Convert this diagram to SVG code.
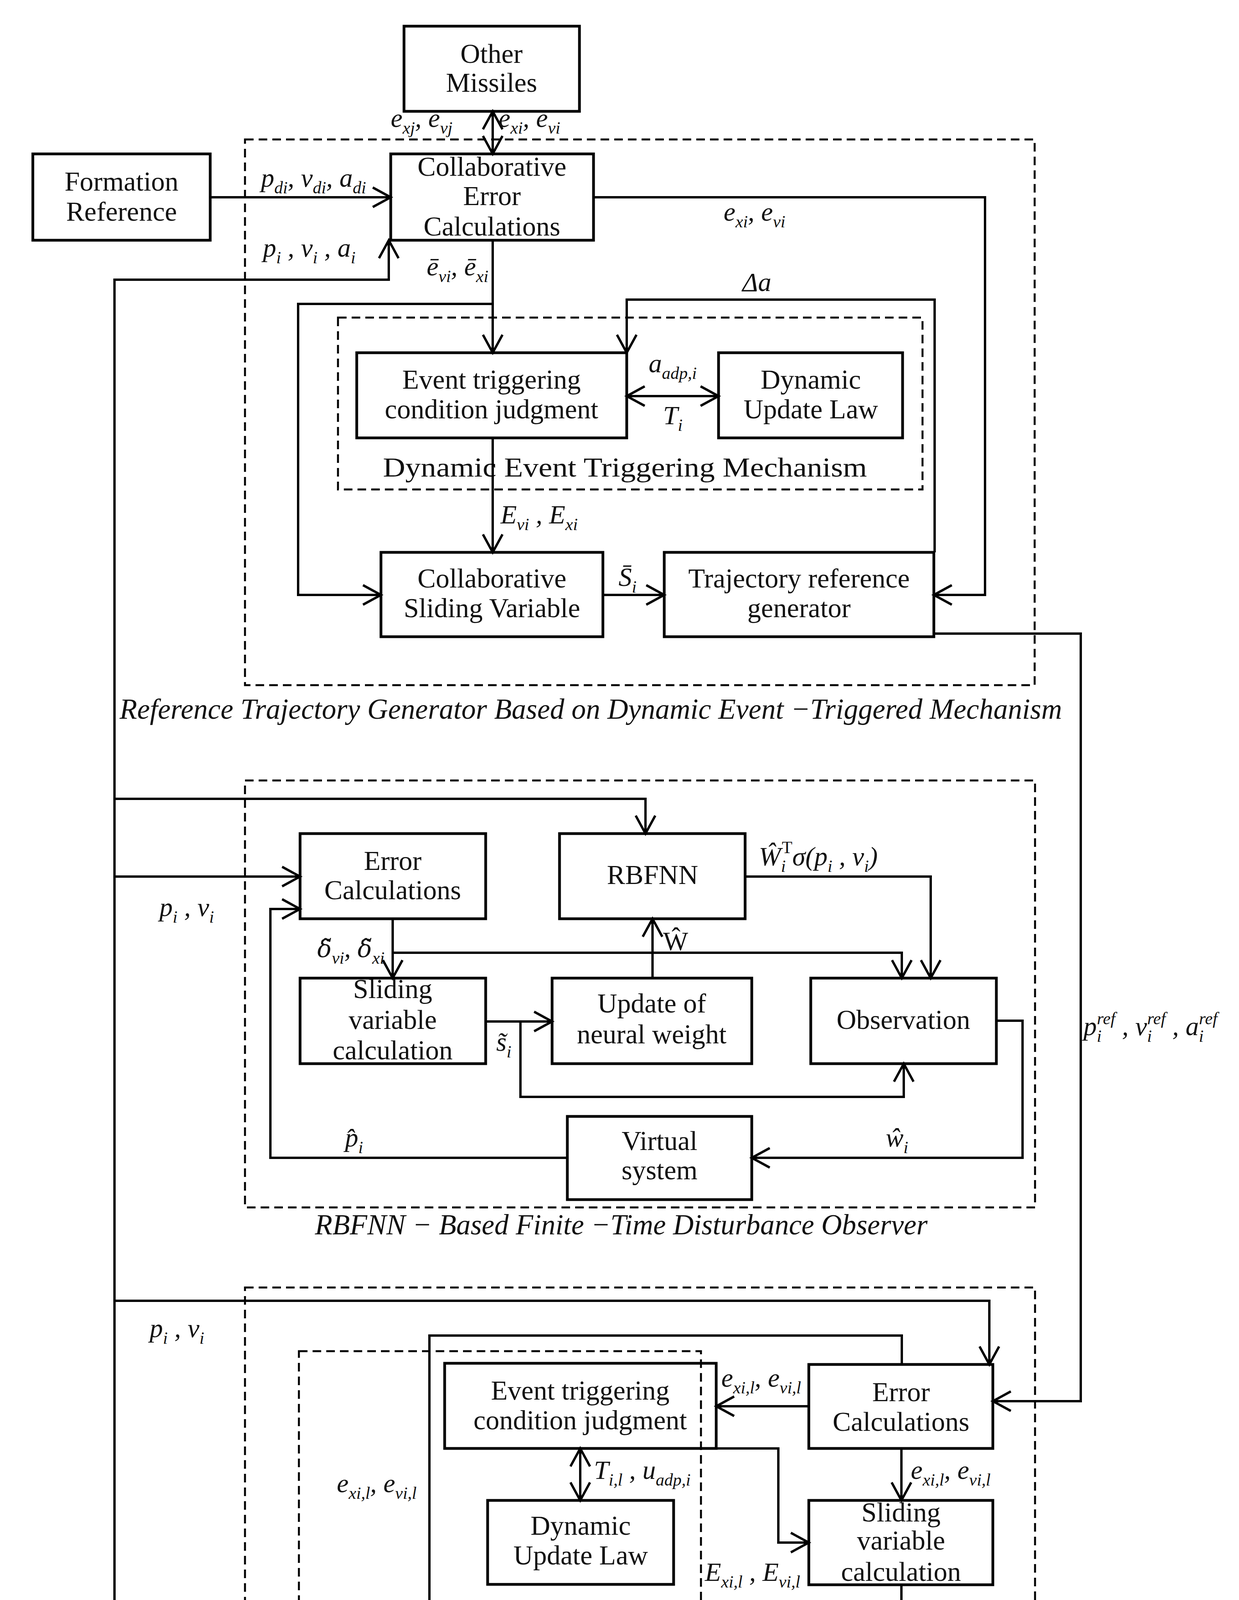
<svg xmlns="http://www.w3.org/2000/svg" width="3171" height="4573" viewBox="0 0 3171 4573">
<style>
.box{fill:none;stroke:#000;stroke-width:7}
.dash{fill:none;stroke:#000;stroke-width:5;stroke-dasharray:22 13}
.ln{fill:none;stroke:#000;stroke-width:6}
.arr{marker-end:url(#ah)}
.dbl{marker-start:url(#ah);marker-end:url(#ah)}
.t{font-family:"Liberation Serif","Times New Roman",serif;font-size:70px;text-anchor:middle;fill:#111}
.m{font-family:"Liberation Serif","Times New Roman",serif;font-style:italic;font-size:68px;fill:#111}
.s{font-size:44px}
.up{font-style:normal}
.dv{font-family:"DejaVu Serif",serif;font-size:62px}
.cap{font-family:"Liberation Serif","Times New Roman",serif;font-style:italic;font-size:74px;fill:#111}
.lbl{font-family:"Liberation Serif","Times New Roman",serif;font-size:70px;fill:#111}
</style>
<defs>
<marker id="ah" markerUnits="userSpaceOnUse" viewBox="-52 -30 56 60" markerWidth="56" markerHeight="60" refX="0" refY="0" orient="auto-start-reverse" overflow="visible">
<path d="M-46,-25 L0,0 L-46,25" fill="none" stroke="#000" stroke-width="6"/>
</marker>
</defs>
<rect width="3171" height="4573" fill="#fff"/>

<!-- containers -->
<g id="reference-trajectory-generator">
<rect class="dash" x="627" y="357" width="2021" height="1397"/>
<text class="cap" x="306" y="1840" textLength="2412" lengthAdjust="spacingAndGlyphs">Reference Trajectory Generator Based on Dynamic Event −Triggered Mechanism</text>
</g>
<g id="dynamic-event-triggering-mechanism">
<rect class="dash" x="865" y="813" width="1496" height="440"/>
<text class="lbl" x="980" y="1220" textLength="1239" lengthAdjust="spacingAndGlyphs">Dynamic Event Triggering Mechanism</text>
</g>
<g id="disturbance-observer">
<rect class="dash" x="627" y="1998" width="2022" height="1093"/>
<text class="cap" x="806" y="3160" textLength="1568" lengthAdjust="spacingAndGlyphs">RBFNN − Based Finite −Time Disturbance Observer</text>
</g>
<g id="trajectory-tracker">
<rect class="dash" x="627" y="3296" width="2022" height="1150"/>
<text class="cap" x="745" y="4524" textLength="1794" lengthAdjust="spacingAndGlyphs">A Trajectory Tracker Based on Event −Triggered Mechanism</text>
</g>
<g id="lower-event-triggering-mechanism">
<rect class="dash" x="765" y="3459" width="1029" height="677"/>
</g>

<!-- connectors -->
<g id="connectors">
<path class="ln dbl" d="M1261,285 L1261,394"/>
<path class="ln arr" d="M538,505 L1000,505"/>
<path class="ln arr" d="M293,4170 L293,716 L995,716 L995,615"/>
<path class="ln arr" d="M1519,505 L2521,505 L2521,1523 L2390,1523"/>
<path class="ln arr" d="M1261,615 L1261,903"/>
<path class="ln arr" d="M1261,778 L763,778 L763,1523 L975,1523"/>
<path class="ln dbl" d="M1604,1014 L1839,1014"/>
<path class="ln arr" d="M2392,1414 L2392,767 L1604,767 L1604,903"/>
<path class="ln arr" d="M1261,1121 L1261,1414"/>
<path class="ln arr" d="M1543,1523 L1700,1523"/>
<path class="ln arr" d="M2390,1622 L2766,1622 L2766,3587 L2541,3587"/>

<path class="ln arr" d="M293,2045 L1652,2045 L1652,2134"/>
<path class="ln arr" d="M293,2244 L768,2244"/>
<path class="ln arr" d="M1005,2352 L1005,2504"/>
<path class="ln arr" d="M1005,2439 L2308,2439 L2308,2504"/>
<path class="ln arr" d="M1243,2615 L1413,2615"/>
<path class="ln arr" d="M1332,2615 L1332,2808 L2313,2808 L2313,2723"/>
<path class="ln arr" d="M1670,2504 L1670,2352"/>
<path class="ln arr" d="M1907,2244 L2382,2244 L2382,2504"/>
<path class="ln arr" d="M2550,2613 L2617,2613 L2617,2964 L1924,2964"/>
<path class="ln arr" d="M1452,2964 L692,2964 L692,2327 L768,2327"/>

<path class="ln arr" d="M293,3330 L2532,3330 L2532,3493"/>
<path class="ln arr" d="M2308,3493 L2308,3419 L1099,3419 L1099,4174 L1255,4174"/>
<path class="ln arr" d="M2070,3600 L1833,3600"/>
<path class="ln dbl" d="M1485,3708 L1485,3841"/>
<path class="ln arr" d="M1833,3708 L1992,3708 L1992,3949 L2070,3949"/>
<path class="ln arr" d="M2307,3708 L2307,3841"/>
<path class="ln arr" d="M2307,4057 L2307,4275 L1727,4275"/>
<path class="ln arr" d="M1255,4278 L528,4278"/>

<!-- connector labels -->
<text class="m" x="1000" y="325">e<tspan class="s" dy="17">xj</tspan><tspan dy="-17">, e</tspan><tspan class="s" dy="17">vj</tspan></text>
<text class="m" x="1276" y="325">e<tspan class="s" dy="17">xi</tspan><tspan dy="-17">, e</tspan><tspan class="s" dy="17">vi</tspan></text>
<text class="m" x="668" y="478">p<tspan class="s" dy="17">di</tspan><tspan dy="-17">, v</tspan><tspan class="s" dy="17">di</tspan><tspan dy="-17">, a</tspan><tspan class="s" dy="17">di</tspan></text>
<text class="m" x="673" y="657">p<tspan class="s" dy="17">i</tspan><tspan dy="-17"> , v</tspan><tspan class="s" dy="17">i</tspan><tspan dy="-17"> , a</tspan><tspan class="s" dy="17">i</tspan></text>
<text class="m" x="1092" y="705">ē<tspan class="s" dy="17">vi</tspan><tspan dy="-17">, ē</tspan><tspan class="s" dy="17">xi</tspan></text>
<text class="m" x="1852" y="565">e<tspan class="s" dy="17">xi</tspan><tspan dy="-17">, e</tspan><tspan class="s" dy="17">vi</tspan></text>
<text class="m" x="1900" y="745">Δa</text>
<text class="m" x="1660" y="953">a<tspan class="s" dy="17">adp,i</tspan></text>
<text class="m" x="1697" y="1086">T<tspan class="s" dy="17">i</tspan></text>
<text class="m" x="1281" y="1340">E<tspan class="s" dy="17">vi</tspan><tspan dy="-17"> , E</tspan><tspan class="s" dy="17">xi</tspan></text>
<text class="m" x="1583" y="1500">S̄<tspan class="s" dy="17">i</tspan></text>
<text class="m" x="2773" y="2650">p<tspan class="s" dy="17">i</tspan><tspan class="s" dx="-12" dy="-45">ref</tspan><tspan dy="28"> , v</tspan><tspan class="s" dy="17">i</tspan><tspan class="s" dx="-12" dy="-45">ref</tspan><tspan dy="28"> , a</tspan><tspan class="s" dy="17">i</tspan><tspan class="s" dx="-12" dy="-45">ref</tspan></text>

<text class="m" x="408" y="2345">p<tspan class="s" dy="17">i</tspan><tspan dy="-17"> , v</tspan><tspan class="s" dy="17">i</tspan></text>
<text class="m" x="1942" y="2215">Ŵ<tspan class="s" dy="17">i</tspan><tspan class="s up" dx="-10" dy="-48">T</tspan><tspan dy="31">σ(p</tspan><tspan class="s" dy="17">i</tspan><tspan dy="-17"> , v</tspan><tspan class="s" dy="17">i</tspan><tspan dy="-17">)</tspan></text>
<text class="m" x="812" y="2450"><tspan class="dv">δ̃</tspan><tspan class="s" dy="17">vi</tspan><tspan dy="-17">, </tspan><tspan class="dv">δ̃</tspan><tspan class="s" dy="17">xi</tspan></text>
<text class="m up" x="1697" y="2432">Ŵ</text>
<text class="m" x="1270" y="2690">s̃<tspan class="s" dy="17">i</tspan></text>
<text class="m" x="883" y="2935">p̂<tspan class="s" dy="17">i</tspan></text>
<text class="m" x="2267" y="2935">ŵ<tspan class="s" dy="17">i</tspan></text>

<text class="m" x="383" y="3423">p<tspan class="s" dy="17">i</tspan><tspan dy="-17"> , v</tspan><tspan class="s" dy="17">i</tspan></text>
<text class="m" x="862" y="3820">e<tspan class="s" dy="17">xi,l</tspan><tspan dy="-17">, e</tspan><tspan class="s" dy="17">vi,l</tspan></text>
<text class="m" x="1846" y="3550">e<tspan class="s" dy="17">xi,l</tspan><tspan dy="-17">, e</tspan><tspan class="s" dy="17">vi,l</tspan></text>
<text class="m" x="1520" y="3786">T<tspan class="s" dy="17">i,l</tspan><tspan dy="-17"> , u</tspan><tspan class="s" dy="17">adp,i</tspan></text>
<text class="m" x="2331" y="3786">e<tspan class="s" dy="17">xi,l</tspan><tspan dy="-17">, e</tspan><tspan class="s" dy="17">vi,l</tspan></text>
<text class="m" x="1804" y="4047">E<tspan class="s" dy="17">xi,l</tspan><tspan dy="-17"> , E</tspan><tspan class="s" dy="17">vi,l</tspan></text>
<text class="m" x="2331" y="4195">s<tspan class="s" dy="17">i,l</tspan></text>
<text class="m" x="806" y="4250">u<tspan class="s" dy="17">i</tspan></text>
</g>

<!-- nodes -->
<g id="other-missiles">
<rect class="box" x="1034" y="67" width="449" height="218"/>
<text class="t" x="1258" y="161">Other</text>
<text class="t" x="1258" y="235">Missiles</text>
</g>
<g id="formation-reference">
<rect class="box" x="84" y="394" width="454" height="221"/>
<text class="t" x="311" y="488">Formation</text>
<text class="t" x="311" y="565">Reference</text>
</g>
<g id="collaborative-error-calculations">
<rect class="box" x="1000" y="394" width="519" height="221"/>
<text class="t" x="1259" y="450">Collaborative</text>
<text class="t" x="1259" y="525">Error</text>
<text class="t" x="1259" y="603">Calculations</text>
</g>
<g id="event-triggering-1">
<rect class="box" x="913" y="903" width="691" height="218"/>
<text class="t" x="1258" y="995">Event triggering</text>
<text class="t" x="1258" y="1071">condition judgment</text>
</g>
<g id="dynamic-update-law-1">
<rect class="box" x="1839" y="903" width="471" height="218"/>
<text class="t" x="2075" y="995">Dynamic</text>
<text class="t" x="2075" y="1071">Update Law</text>
</g>
<g id="collaborative-sliding-variable">
<rect class="box" x="975" y="1414" width="568" height="216"/>
<text class="t" x="1259" y="1504">Collaborative</text>
<text class="t" x="1259" y="1580">Sliding Variable</text>
</g>
<g id="trajectory-reference-generator">
<rect class="box" x="1700" y="1414" width="690" height="216"/>
<text class="t" x="2045" y="1504">Trajectory reference</text>
<text class="t" x="2045" y="1580">generator</text>
</g>

<g id="error-calculations-1">
<rect class="box" x="768" y="2134" width="475" height="218"/>
<text class="t" x="1005" y="2227">Error</text>
<text class="t" x="1005" y="2302">Calculations</text>
</g>
<g id="rbfnn">
<rect class="box" x="1432" y="2134" width="475" height="218"/>
<text class="t" x="1670" y="2263">RBFNN</text>
</g>
<g id="sliding-variable-1">
<rect class="box" x="768" y="2504" width="475" height="219"/>
<text class="t" x="1005" y="2555">Sliding</text>
<text class="t" x="1005" y="2634">variable</text>
<text class="t" x="1005" y="2712">calculation</text>
</g>
<g id="update-neural-weight">
<rect class="box" x="1413" y="2504" width="511" height="219"/>
<text class="t" x="1668" y="2592">Update of</text>
<text class="t" x="1668" y="2671">neural weight</text>
</g>
<g id="observation">
<rect class="box" x="2075" y="2504" width="475" height="219"/>
<text class="t" x="2312" y="2634">Observation</text>
</g>
<g id="virtual-system">
<rect class="box" x="1452" y="2858" width="472" height="213"/>
<text class="t" x="1688" y="2944">Virtual</text>
<text class="t" x="1688" y="3019">system</text>
</g>

<g id="event-triggering-2">
<rect class="box" x="1138" y="3490" width="695" height="218"/>
<text class="t" x="1485" y="3583">Event triggering</text>
<text class="t" x="1485" y="3659">condition judgment</text>
</g>
<g id="dynamic-update-law-2">
<rect class="box" x="1248" y="3841" width="476" height="215"/>
<text class="t" x="1486" y="3929">Dynamic</text>
<text class="t" x="1486" y="4005">Update Law</text>
</g>
<g id="error-calculations-2">
<rect class="box" x="2070" y="3493" width="471" height="215"/>
<text class="t" x="2306" y="3587">Error</text>
<text class="t" x="2306" y="3663">Calculations</text>
</g>
<g id="sliding-variable-2">
<rect class="box" x="2070" y="3841" width="471" height="216"/>
<text class="t" x="2306" y="3895">Sliding</text>
<text class="t" x="2306" y="3967">variable</text>
<text class="t" x="2306" y="4047">calculation</text>
</g>
<g id="control-law">
<rect class="box" x="1255" y="4172" width="472" height="213"/>
<text class="t" x="1491" y="4258">Control</text>
<text class="t" x="1491" y="4334">Law</text>
</g>
<g id="actuator">
<rect class="box" x="58" y="4170" width="470" height="215"/>
<text class="t" x="293" y="4258">Actuator of</text>
<text class="t" x="293" y="4334">the Missile</text>
</g>
</svg>
